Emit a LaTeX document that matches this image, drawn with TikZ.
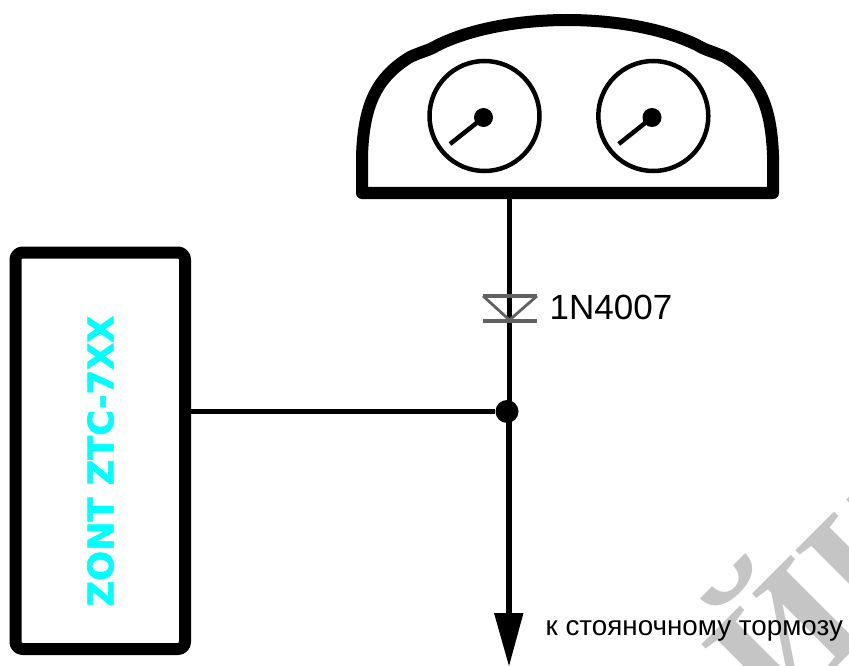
\documentclass[tikz,border=0pt]{standalone}
\usepackage{fontspec}
\setmainfont{Liberation Sans}
\newfontfamily\zontfont{DejaVu Sans}[BoldFeatures={FakeBold=1.6}]
\newfontfamily\wmfont{Liberation Serif}
\definecolor{zontcyan}{RGB}{0,255,255}
\definecolor{wmgrey}{RGB}{197,197,197}
\tikzset{
  thick outline/.style={draw=black,line width=12pt,rounded corners=7pt,line join=round},
  wire/.style={draw=black,line width=5.5pt},
  gauge/.style={circle,draw=black,line width=4.5pt,minimum size=110pt,inner sep=0pt,fill=white},
  hub/.style={circle,fill=black,minimum size=19pt,inner sep=0pt},
  needle/.style={draw=black,line width=4.5pt},
  diodepart/.style={draw=black!62,line width=4pt},
  dot/.style={circle,fill=black,minimum size=23pt,inner sep=0pt},
}
\begin{document}
\begin{tikzpicture}[x=1pt,y=-1pt]
\useasboundingbox (0,0) rectangle (849,666);
% watermark
\begin{scope}
\clip (0,0) rectangle (849,666);
\node[text=wmgrey,font=\wmfont\bfseries\fontsize{170}{170}\selectfont,rotate=45,anchor=center,inner sep=0pt] (wm) at (775,628) {ОЙН};
\end{scope}
% instrument cluster
\draw[line width=12pt,line join=round,fill=white]
  (362,193) -- (362,155)
  .. controls (364,105) and (376,78) .. (410,57)
  .. controls (423,51) and (428,51) .. (438,45)
  .. controls (475,27) and (525,20) .. (567,20)
  .. controls (610,20) and (660,27) .. (697,45)
  .. controls (707,51) and (712,51) .. (725,57)
  .. controls (759,78) and (771,105) .. (773,155)
  -- (773,193) -- cycle;
\coordinate (clusterbottom) at (509.5,199);
\node[gauge] (g1) at (484.5,116) {};
\node[gauge] (g2) at (653.3,116) {};
\node[hub] (h1) at (483.5,117.5) {};
\node[hub] (h2) at (652,117.5) {};
\coordinate (n1) at (450,144);
\coordinate (n2) at (618.7,144);
\draw[needle] (h1.center) -- (n1);
\draw[needle] (h2.center) -- (n2);
% controller box
\node[thick outline,fill=white,minimum width=169.5pt,minimum height=396.5pt,inner sep=0pt,anchor=center] (box) at (100.25,450.75) {};
\node[rotate=90,text=zontcyan,font=\zontfont\bfseries\fontsize{35.2}{36}\selectfont] (lbl) at (100.5,461) {ZONT ZTC-7XX};
% wires
\node[dot] (j) at (507,411.5) {};
\coordinate (tip) at (509,666);
\coordinate (arrowtop) at (509,615);
\draw[wire] (clusterbottom) -- (509.5,411.5);
\draw[wire] (box.east |- j) -- (j);
\draw[wire] (509,411.5) -- (arrowtop);
\fill[black] (494,613) -- (523.5,613) -- (tip) -- cycle;
% diode
\coordinate (da) at (483,296);
\coordinate (db) at (537,296);
\coordinate (dc) at (509.5,320);
\draw[diodepart] (da) -- (db);
\draw[diodepart] (483,321) -- (537,321);
\draw[diodepart,line width=2.8pt] (da) -- (dc) -- (db);
\node[font=\fontsize{35}{36}\selectfont,anchor=base west,inner sep=0pt] (dl) at (549.5,319) {1N4007};
\node[font=\fontsize{27.8}{30}\selectfont,anchor=base west,inner sep=0pt] (dest) at (545.5,635) {к стояночному тормозу};
\end{tikzpicture}
\end{document}
